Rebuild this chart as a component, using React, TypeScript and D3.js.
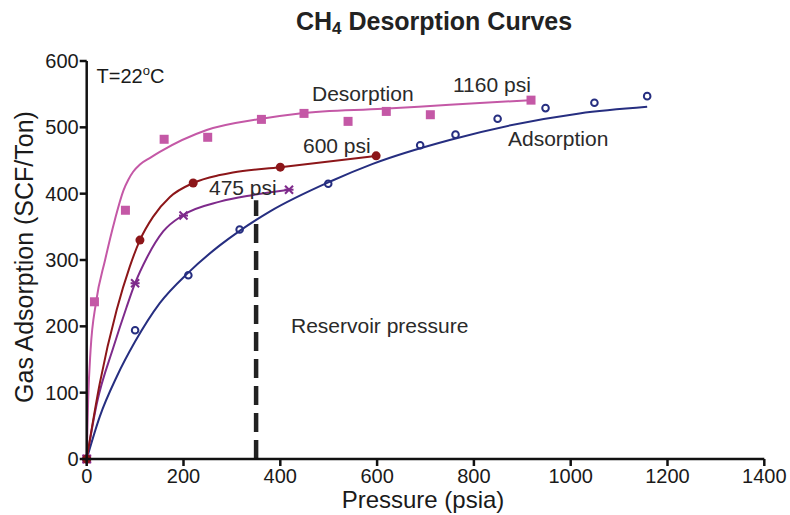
import React from "react";
import * as d3 from "d3";

// ---------- data ----------
// Desorption (1160 psi start), pink squares
const desorbX = [0, 16, 80, 160, 250, 361, 449, 540, 619, 710, 918];
const desorbY = [0, 237, 375, 482, 485, 512, 521, 509, 524, 519, 541];
const desorbFitX = [0, 3, 8, 19, 38, 58, 76, 86, 96, 110, 131, 151, 248, 361, 440, 612, 750, 918];
const desorbFitY = [0, 89, 164, 235, 300, 360, 405, 421, 433, 444, 454, 463, 496, 513, 521, 528, 534, 541];

// 600 psi, dark red circles
const d600X = [0, 110, 220, 400, 598];
const d600Y = [0, 330, 416, 440, 457];
const d600FitX = [0, 27, 62, 89, 110, 137, 172, 220, 275, 302, 400, 598];
const d600FitY = [0, 114, 225, 290, 330, 365, 395, 416, 428, 432, 440, 457];

// 475 psi, purple crosses
const d475X = [0, 100, 200, 418];
const d475Y = [0, 265, 367, 406];
const d475FitX = [0, 21, 55, 82, 100, 124, 158, 200, 275, 344, 418];
const d475FitY = [0, 84, 168, 228, 265, 303, 343, 368, 388, 398, 406];

// Adsorption, navy open circles
const adsX = [0, 100, 210, 316, 499, 689, 762, 849, 948, 1049, 1158];
const adsY = [0, 194, 277, 346, 415, 473, 489, 513, 529, 537, 547];
const adsFitX = [0, 27, 62, 100, 151, 210, 275, 316, 378, 502, 591, 750, 1018, 1158];
const adsFitY = [0, 64, 124, 177, 235, 281, 322, 344, 373, 418, 445, 481, 521, 531];

const xTicks = [0, 200, 400, 600, 800, 1000, 1200, 1400];
const yTicks = [0, 100, 200, 300, 400, 500, 600];
const reservoirPressure = 350;
const reservoirTop = 390;

// ---------- layout ----------
const W = 790;
const H = 515;
const FONT = "'Liberation Sans', Arial, Helvetica, sans-serif";

const x = d3.scaleLinear().domain([0, 1400]).range([86.7, 764.3]);
const y = d3.scaleLinear().domain([0, 600]).range([459, 61]);

const PINK = "#c458a6";
const RED = "#8c1619";
const PURPLE = "#7e2a8b";
const NAVY = "#262e80";

const zip = (xs: number[], ys: number[]) => xs.map((v, i) => [v, ys[i]] as [number, number]);

const line = d3
  .line<[number, number]>()
  .x((d) => x(d[0]))
  .y((d) => y(d[1]))
  .curve(d3.curveMonotoneX);

export default function App() {
  const pinkPts = zip(desorbX, desorbY);
  const redPts = zip(d600X, d600Y);
  const purplePts = zip(d475X, d475Y);
  const navyPts = zip(adsX, adsY);

  return (
    <svg
      width={W}
      height={H}
      style={{ position: "absolute", left: 0, top: 0, background: "#fff" }}
      fontFamily={FONT}
    >
      {/* title */}
      <text x={434} y={30} textAnchor="middle" fontSize={25} fontWeight="bold" fill="#222">
        CH
        <tspan fontSize={17} dy={4}>4</tspan>
        <tspan dy={-4}> Desorption Curves</tspan>
      </text>

      {/* dashed reservoir line */}
      <line
        x1={x(reservoirPressure)}
        x2={x(reservoirPressure)}
        y1={y(0)}
        y2={y(reservoirTop)}
        stroke="#222"
        strokeWidth={4.5}
        strokeDasharray="19 8"
      />

      {/* fitted curves */}
      <path d={line(zip(desorbFitX, desorbFitY)) || ""} fill="none" stroke={PINK} strokeWidth={2} />
      <path d={line(zip(adsFitX, adsFitY)) || ""} fill="none" stroke={NAVY} strokeWidth={2} />
      <path d={line(zip(d475FitX, d475FitY)) || ""} fill="none" stroke={PURPLE} strokeWidth={2} />
      <path d={line(zip(d600FitX, d600FitY)) || ""} fill="none" stroke={RED} strokeWidth={2} />

      {/* markers */}
      {pinkPts.map((p, i) => (
        <rect key={"s" + i} x={x(p[0]) - 4.5} y={y(p[1]) - 4.5} width={9} height={9} fill={PINK} />
      ))}
      {navyPts.map((p, i) => (
        <circle key={"a" + i} cx={x(p[0])} cy={y(p[1])} r={3.3} fill="none" stroke={NAVY} strokeWidth={2} />
      ))}
      {purplePts.map((p, i) => (
        <g key={"p" + i} transform={`translate(${x(p[0])},${y(p[1])})`} stroke={PURPLE} strokeWidth={2}>
          <line x1={-4} y1={-4} x2={4} y2={4} />
          <line x1={-4} y1={4} x2={4} y2={-4} />
          <line x1={-4.5} y1={0} x2={4.5} y2={0} />
        </g>
      ))}
      {redPts.map((p, i) => (
        <circle key={"r" + i} cx={x(p[0])} cy={y(p[1])} r={4.5} fill={RED} />
      ))}

      {/* axes */}
      <g stroke="#111" strokeWidth={2.5} fill="none">
        <line x1={x(0)} x2={x(0)} y1={y(0) + 1.2} y2={y(600)} />
        <line x1={x(0)} x2={x(1400)} y1={y(0)} y2={y(0)} />
        {yTicks.map((t) => (
          <line key={"yt" + t} x1={x(0) - 7} x2={x(0)} y1={y(t)} y2={y(t)} />
        ))}
        {xTicks.map((t) => (
          <line key={"xt" + t} x1={x(t)} x2={x(t)} y1={y(0)} y2={y(0) + 7} />
        ))}
      </g>
      {yTicks.map((t) => (
        <text key={"yl" + t} x={x(0) - 8} y={y(t) + 7} textAnchor="end" fontSize={20} fill="#1a1a1a">
          {t}
        </text>
      ))}
      {xTicks.map((t) => (
        <text key={"xl" + t} x={x(t)} y={y(0) + 24} textAnchor="middle" fontSize={20} fill="#1a1a1a">
          {t}
        </text>
      ))}

      {/* axis titles */}
      <text x={423} y={508} textAnchor="middle" fontSize={24} fill="#1a1a1a">
        Pressure (psia)
      </text>
      <text
        transform="translate(33,257) rotate(-90)"
        textAnchor="middle"
        fontSize={25}
        fill="#1a1a1a"
      >
        Gas Adsorption (SCF/Ton)
      </text>

      {/* annotations */}
      <text x={96.5} y={83} fontSize={20} fill="#1a1a1a">
        T=22<tspan fontSize={13} dy={-8}>o</tspan>
        <tspan dy={8}>C</tspan>
      </text>
      <text x={312} y={100.7} fontSize={21} fill="#2a2a2a">Desorption</text>
      <text x={453} y={92.3} fontSize={21} fill="#2a2a2a">1160 psi</text>
      <text x={303} y={153.3} fontSize={21} fill="#2a2a2a">600 psi</text>
      <text x={209} y={195} fontSize={21} fill="#2a2a2a">475 psi</text>
      <text x={508} y={146} fontSize={21} fill="#2a2a2a">Adsorption</text>
      <text x={291} y={333.3} fontSize={21} fill="#2a2a2a">Reservoir pressure</text>
    </svg>
  );
}
